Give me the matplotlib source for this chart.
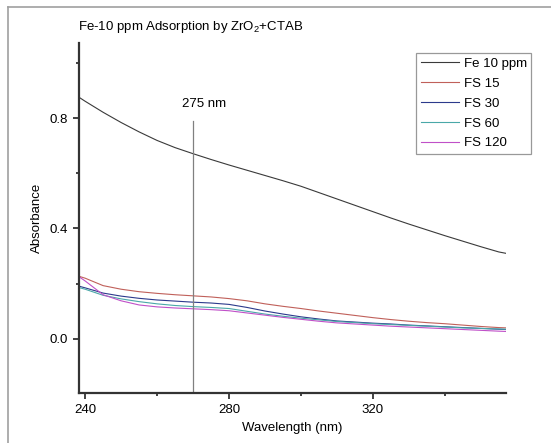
import numpy as np
import matplotlib
matplotlib.use("Agg")
import matplotlib.pyplot as plt
from matplotlib.lines import Line2D
from matplotlib.ticker import MultipleLocator

plt.rcParams['font.family'] = ['Liberation Sans', 'DejaVu Sans']
plt.rcParams['mathtext.fontset'] = 'custom'
plt.rcParams['mathtext.rm'] = 'Liberation Sans'

# UV-Vis spectra, absorbance vs wavelength
wavelength = [238, 240, 245, 250, 255, 260, 265, 270, 275, 280, 285, 290, 295,
              300, 305, 310, 315, 320, 325, 330, 335, 340, 345, 350, 355, 357]

fe_10ppm = [0.878, 0.861, 0.821, 0.784, 0.750, 0.719, 0.693, 0.671, 0.650, 0.630,
            0.611, 0.592, 0.573, 0.553, 0.530, 0.507, 0.484, 0.461, 0.438, 0.416,
            0.395, 0.374, 0.354, 0.334, 0.315, 0.310]
fs_15 = [0.228, 0.220, 0.193, 0.180, 0.171, 0.165, 0.160, 0.156, 0.152, 0.146,
         0.138, 0.127, 0.118, 0.110, 0.101, 0.093, 0.085, 0.077, 0.070, 0.064,
         0.059, 0.055, 0.050, 0.045, 0.041, 0.040]
fs_30 = [0.192, 0.185, 0.166, 0.155, 0.147, 0.141, 0.137, 0.133, 0.130, 0.125,
         0.114, 0.101, 0.090, 0.080, 0.072, 0.065, 0.061, 0.057, 0.054, 0.050,
         0.047, 0.044, 0.041, 0.038, 0.035, 0.034]
fs_60 = [0.187, 0.180, 0.158, 0.145, 0.135, 0.127, 0.121, 0.117, 0.114, 0.110,
         0.100, 0.090, 0.082, 0.075, 0.069, 0.063, 0.059, 0.055, 0.052, 0.049,
         0.046, 0.043, 0.040, 0.038, 0.036, 0.035]
fs_120 = [0.228, 0.210, 0.160, 0.138, 0.123, 0.116, 0.112, 0.109, 0.106, 0.102,
          0.094, 0.086, 0.078, 0.071, 0.064, 0.058, 0.054, 0.050, 0.046, 0.043,
          0.040, 0.037, 0.034, 0.031, 0.028, 0.027]

labels = ["Fe 10 ppm", "FS 15", "FS 30", "FS 60", "FS 120"]
colors = ["#3a3a3a", "#c0605a", "#2c3a8c", "#4aa8a8", "#c050c8"]

marker_wl = 270
marker_top = 0.79
marker_text = "275 nm"

fig = plt.figure(figsize=(5.51, 4.43), dpi=100)
ax = fig.add_axes([79/551, 1-393/443, (506-79)/551, (393-43)/443])

for y, lab, c in zip([fe_10ppm, fs_15, fs_30, fs_60, fs_120], labels, colors):
    ax.plot(wavelength, y, color=c, lw=0.8, label=lab)

ax.plot([marker_wl, marker_wl], [-0.2, marker_top], color="#808080", lw=0.9)
ax.text(marker_wl + 3, 0.851, marker_text, ha="center", va="center", fontsize=9.5)

ax.set_xlim(238.3, 357)
ax.set_ylim(-0.196, 1.072)
ax.xaxis.set_major_locator(MultipleLocator(40))
ax.xaxis.set_minor_locator(MultipleLocator(20))
ax.yaxis.set_major_locator(MultipleLocator(0.4))
ax.yaxis.set_minor_locator(MultipleLocator(0.2))
ax.yaxis.set_major_formatter(matplotlib.ticker.FormatStrFormatter("%.1f"))

for s in ["top", "right"]:
    ax.spines[s].set_visible(False)
for s in ["left", "bottom"]:
    ax.spines[s].set_linewidth(1.6)
    ax.spines[s].set_color("#333333")
ax.tick_params(which="major", direction="out", length=4.5, width=1.3,
               labelsize=9.5, color="#333333")
ax.tick_params(which="minor", direction="out", length=2.5, width=1.3,
               color="#333333")

ax.set_xlabel("Wavelength (nm)", fontsize=9.5, labelpad=4)
ax.set_ylabel("Absorbance", fontsize=9.5, labelpad=5)

fig.text(78/551, 1-27/443, r"Fe-10 ppm Adsorption by ZrO$_\mathregular{2}$+CTAB",
         ha="left", va="center", fontsize=9.5)

leg = ax.legend(loc="upper left", bbox_to_anchor=(416/551, 1-53/443),
                bbox_transform=fig.transFigure, fontsize=9.5, frameon=True,
                fancybox=False, edgecolor="#808080", handlelength=2.9,
                handletextpad=0.35, labelspacing=0.58, borderpad=0.35,
                borderaxespad=0)
leg.get_frame().set_linewidth(0.9)

# outer frame
fig.add_artist(Line2D([8/551, 8/551], [0, 1-7/443], color="#a0a0a0", lw=1.2,
                      transform=fig.transFigure))
fig.add_artist(Line2D([8/551, 1], [1-7/443, 1-7/443], color="#a0a0a0", lw=1.2,
                      transform=fig.transFigure))

fig.savefig("out.png", dpi=100)
